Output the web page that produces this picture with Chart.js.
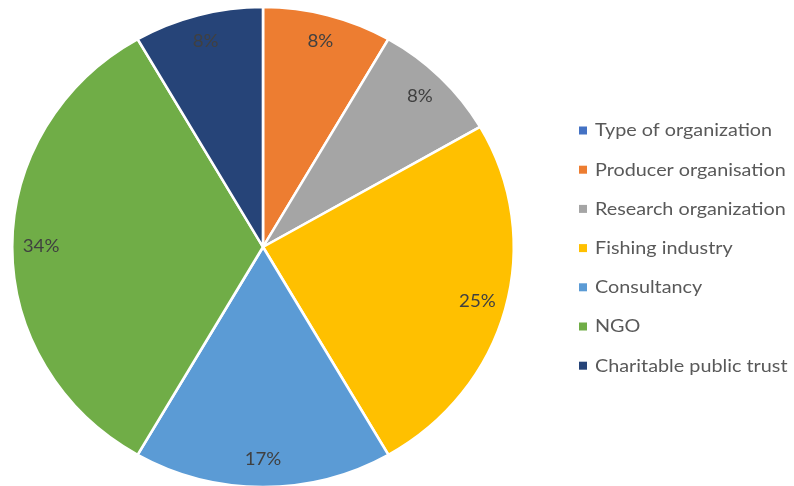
<!DOCTYPE html>
<html>
<head>
<meta charset="utf-8">
<script src="https://cdn.jsdelivr.net/npm/chart.js@4"></script>
<style>
html,body{margin:0;padding:0;background:#fff;}
#wrap{position:relative;width:794px;height:486px;}
</style>
</head>
<body>
<div id="wrap"><canvas id="c" width="794" height="486"></canvas></div>
<script>
const categories = ["Type of organization","Producer organisation","Research organization","Fishing industry","Consultancy","NGO","Charitable public trust"];
const values = [0, 8.33, 8.33, 25, 16.67, 33.33, 8.33];
const percentLabels = ["", "8%", "8%", "25%", "17%", "34%", "8%"];
const colors = ["#4472C4","#ED7D31","#A5A5A5","#FFC000","#5B9BD5","#70AD47","#264478"];

const FONT = "Lato, 'Open Sans', 'Liberation Sans', sans-serif";
const STRETCH = 1.045;

function stretchedText(ctx, text, x, y, sx) {
  ctx.save();
  ctx.translate(x, y);
  ctx.scale(sx, 1);
  ctx.fillText(text, 0, 0);
  ctx.restore();
}

const pieStyle = {
  id: 'pieStyle',
  beforeDatasetsDraw(chart) {
    const meta = chart.getDatasetMeta(0);
    const a = meta.data[0];
    const ctx = chart.ctx;
    ctx.save();
    ctx.translate(a.x, a.y);
    ctx.scale(STRETCH, 1);
    ctx.translate(-a.x, -a.y);
  },
  afterDatasetsDraw(chart) {
    const ctx = chart.ctx;
    ctx.restore();
    const meta = chart.getDatasetMeta(0);
    ctx.save();
    ctx.font = "17px " + FONT;
    ctx.fillStyle = "#404040";
    ctx.textAlign = "center";
    ctx.textBaseline = "middle";
    meta.data.forEach((arc, i) => {
      if (!values[i]) return;
      const p = arc.getProps(['x','y','startAngle','endAngle','outerRadius'], true);
      const mid = (p.startAngle + p.endAngle) / 2;
      const r = p.outerRadius * 0.885;
      stretchedText(ctx, percentLabels[i], p.x + Math.cos(mid) * r * STRETCH, p.y + Math.sin(mid) * r, 1.1);
    });
    ctx.restore();
  }
};

const customLegend = {
  id: 'customLegend',
  afterDraw(chart) {
    const ctx = chart.ctx;
    ctx.save();
    ctx.font = "18px " + FONT;
    ctx.textBaseline = "middle";
    ctx.textAlign = "left";
    categories.forEach((c, i) => {
      const y = 130.5 + i * 39.2;
      ctx.fillStyle = colors[i];
      ctx.fillRect(579, y - 4, 8, 8);
      ctx.fillStyle = "#595959";
      stretchedText(ctx, c, 595, y, 1.1);
    });
    ctx.restore();
  }
};

new Chart(document.getElementById('c'), {
  type: 'pie',
  data: {
    labels: categories,
    datasets: [{
      data: values,
      backgroundColor: colors,
      borderColor: "#ffffff",
      borderWidth: 2.5,
      radius: 240
    }]
  },
  options: {
    responsive: false,
    animation: false,
    layout: { padding: { left: 0, right: 268, top: 8, bottom: 0 } },
    plugins: {
      legend: { display: false },
      tooltip: { enabled: false }
    }
  },
  plugins: [pieStyle, customLegend]
});
</script>
</body>
</html>
